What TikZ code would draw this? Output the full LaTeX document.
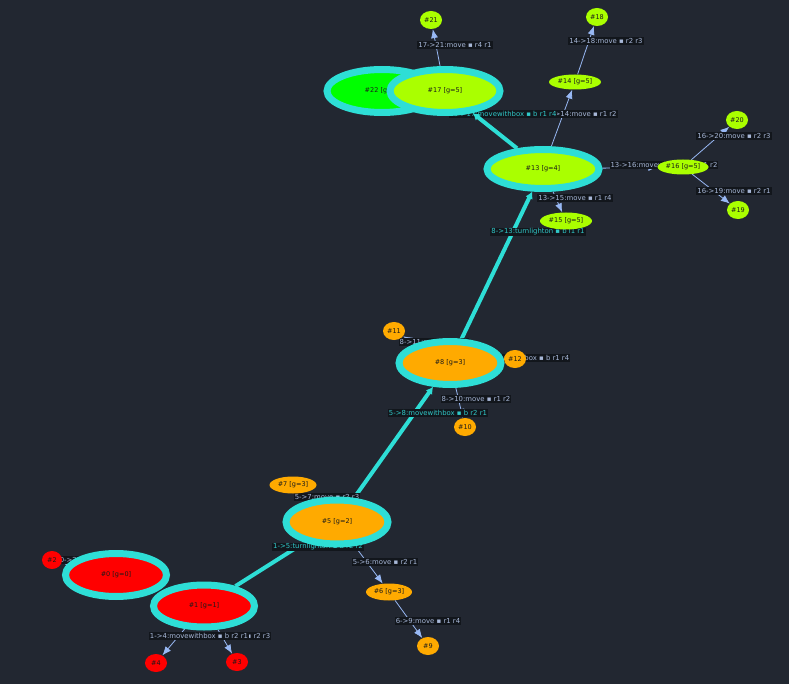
\documentclass[tikz,border=0pt]{standalone}
\usepackage{fontspec}
\setmainfont{DejaVu Sans}
\usetikzlibrary{shapes.geometric,arrows.meta}
\pgfdeclarelayer{bg}
\pgfdeclarelayer{edges}
\pgfsetlayers{bg,edges,main}
\definecolor{bgdark}{HTML}{222731}
\definecolor{ringcyan}{HTML}{2EDED6}
\definecolor{lime}{HTML}{AAFF00}
\definecolor{brightgreen}{HTML}{00FF00}
\definecolor{amber}{HTML}{FFAA00}
\definecolor{redstate}{HTML}{FF0000}
\definecolor{edgeblue}{HTML}{98B8F4}
\definecolor{labelbg}{HTML}{12161C}
\definecolor{labeltext}{HTML}{A8B8D8}
\definecolor{plantext}{HTML}{30C8C8}
\definecolor{nodetext}{HTML}{1A1A1A}
\begin{document}
\begin{tikzpicture}[x=1pt, y=-1pt,
	state/.style={ellipse, inner sep=0pt, text=nodetext, font=\fontsize{6.5}{7}\selectfont},
	leaf/.style={state, minimum width=22pt, minimum height=18pt},
	open/.style={state, minimum width=52pt, minimum height=16pt},
	closed/.style={state, draw=ringcyan, line width=7pt},
	move/.style={draw=edgeblue, line width=0.8pt, -{Latex[length=9pt,width=7pt]}},
	plan/.style={draw=ringcyan, line width=4pt, -{Latex[length=7pt,width=8pt]}},
	lbl/.style={fill=labelbg, text=labeltext, inner sep=1pt, font=\fontsize{6.9}{7}\selectfont},
	plbl/.style={lbl, text=plantext}]
	\useasboundingbox (0,0) rectangle (789,684);
	\begin{pgfonlayer}{bg}
		\fill[bgdark] (0,0) rectangle (789,684);
	\end{pgfonlayer}
	
	% states
	\node[leaf, fill=lime] (s21) at (431,20) {\#21};
	\node[leaf, fill=lime] (s18) at (597,17) {\#18};
	\node[closed, fill=brightgreen, minimum width=110pt, minimum height=43pt] (s22) at (382,91) {\#22 [g=5]};
	\node[closed, fill=lime, minimum width=110pt, minimum height=43pt] (s17) at (445,91) {\#17 [g=5]};
	\node[open, fill=lime, minimum height=15pt] (s14) at (575,82) {\#14 [g=5]};
	\node[closed, fill=lime, minimum width=112pt, minimum height=39pt] (s13) at (543,169) {\#13 [g=4]};
	\node[open, fill=lime, minimum width=51pt, minimum height=15pt] (s16) at (683,167) {\#16 [g=5]};
	\node[leaf, fill=lime] (s20) at (737,120) {\#20};
	\node[leaf, fill=lime] (s19) at (738,210) {\#19};
	\node[open, fill=lime, minimum height=17pt] (s15) at (566,221) {\#15 [g=5]};
	
	\node[leaf, fill=amber] (s11) at (394,331) {\#11};
	\node[closed, fill=amber, minimum width=102pt, minimum height=43pt] (s8) at (450,363) {\#8 [g=3]};
	\node[leaf, fill=amber] (s12) at (515,359) {\#12};
	\node[leaf, fill=amber] (s10) at (465,427) {\#10};
	\node[open, fill=amber, minimum width=47pt, minimum height=17pt] (s7) at (293,485) {\#7 [g=3]};
	\node[closed, fill=amber, minimum width=102pt, minimum height=44pt] (s5) at (337,522) {\#5 [g=2]};
	\node[open, fill=amber, minimum width=46pt, minimum height=17pt] (s6) at (389,592) {\#6 [g=3]};
	\node[leaf, fill=amber] (s9) at (428,646) {\#9};
	
	\node[leaf, fill=redstate, minimum width=20pt] (s2) at (52,560) {\#2};
	\node[closed, fill=redstate, minimum width=101pt, minimum height=43pt] (s0) at (116,575) {\#0 [g=0]};
	\node[closed, fill=redstate, minimum width=101pt, minimum height=42pt] (s1) at (204,606) {\#1 [g=1]};
	\node[leaf, fill=redstate] (s4) at (156,663) {\#4};
	\node[leaf, fill=redstate] (s3) at (237,662) {\#3};
	
	\begin{pgfonlayer}{edges}
		% transitions
		\draw[move] (s17) -- (s21);
		\draw[move] (s14) -- (s18);
		\draw[move] (s13) -- (s14);
		\draw[move] (s13) -- (s16);
		\draw[move] (s16) -- (s20);
		\draw[move] (s16) -- (s19);
		\draw[move] (s13) -- (s15);
		\draw[move] (s8) -- (s11);
		\draw[move] (s8) -- (s12);
		\draw[move] (s8) -- (s10);
		\draw[move] (s5) -- (s7);
		\draw[move] (s5) -- (s6);
		\draw[move] (s6) -- (s9);
		\draw[move] (s1) -- (s4);
		\draw[move] (s1) -- (s3);
		\draw[move] (s0) -- (s2);
		% plan
		\draw[plan] (s1) -- (s5);
		\draw[plan] (s5) -- (s8);
		\draw[plan] (s8) -- (s13);
		
		% labels
		\node[lbl] (l17t21) at (455,45) {17->21:move ▪ r4 r1};
		\node[lbl] (l14t18) at (606,41) {14->18:move ▪ r2 r3};
		\node[lbl] (l13t14) at (580,114) {13->14:move ▪ r1 r2};
		\node[plbl] (l13t17) at (503,114) {13->17:movewithbox ▪ b r1 r4};
		\node[lbl] (l13t16) at (664,165) {13->16:movewithbox ▪ b r1 r2};
		\node[lbl] (l16t20) at (734,136) {16->20:move ▪ r2 r3};
		\node[lbl] (l16t19) at (734,191) {16->19:move ▪ r2 r1};
		\node[lbl] (l13t15) at (575,198) {13->15:move ▪ r1 r4};
		\node[plbl] (l8t13) at (538,232) {8->13:turnlighton ▪ b l1 r1};
		\node[lbl] (l8t11) at (434,342) {8->11:move ▪ r1 r3};
		\node[lbl] (l8t12) at (518,358) {8->12:movewithbox ▪ b r1 r4};
		\node[lbl] (l8t10) at (476,399) {8->10:move ▪ r1 r2};
		\node[plbl] (l5t8) at (438,413) {5->8:movewithbox ▪ b r2 r1};
		\node[lbl] (l5t7) at (327,497) {5->7:move ▪ r2 r3};
		\node[plbl] (l1t5) at (318,547) {1->5:turnlighton ▪ b r2 r2};
		\node[lbl] (l5t6) at (385,562) {5->6:move ▪ r2 r1};
		\node[lbl] (l6t9) at (428,621) {6->9:move ▪ r1 r4};
		\node[lbl] (l1t3) at (238,636) {1->3:move ▪ r2 r3};
		\node[lbl] (l1t4) at (199,636) {1->4:movewithbox ▪ b r2 r1};
		\node[lbl] (l0t2) at (92,560) {0->2:move ▪ r1 r2};
		
		\draw[plan] (s13) -- (s17);
	\end{pgfonlayer}
\end{tikzpicture}
\end{document}
